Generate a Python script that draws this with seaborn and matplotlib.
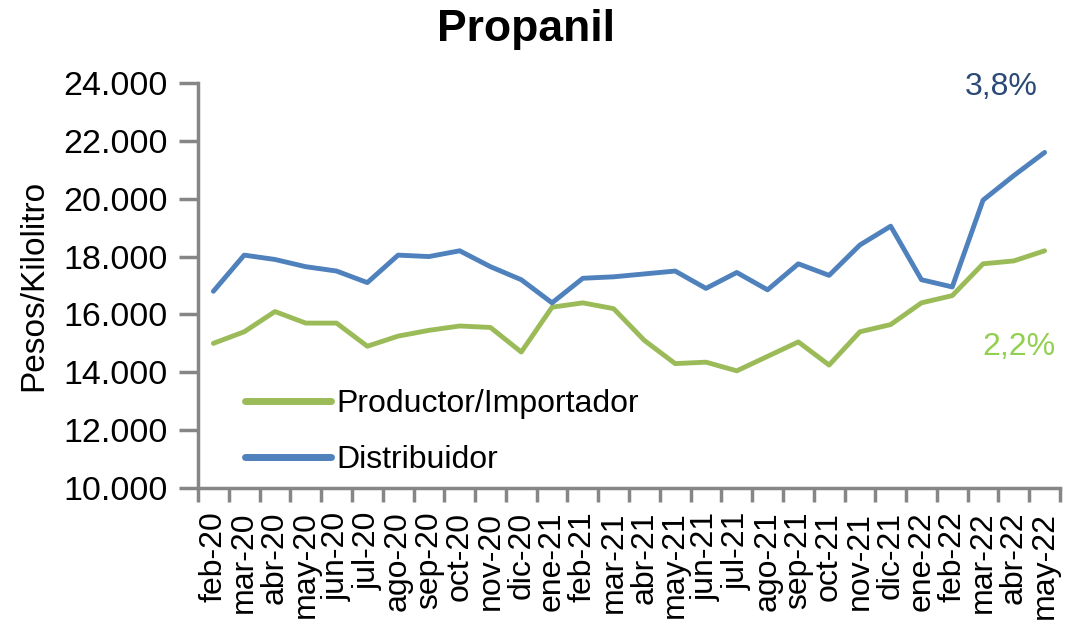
import numpy as np
import pandas as pd
import matplotlib

matplotlib.use("Agg")
import matplotlib.pyplot as plt
from matplotlib.ticker import FixedLocator, FuncFormatter
import seaborn as sns

sns.set_style("white")
plt.rcParams["font.family"] = ["Liberation Sans", "DejaVu Sans"]
plt.rcParams["text.color"] = "black"
plt.rcParams["axes.labelcolor"] = "black"
plt.rcParams["xtick.labelcolor"] = "black"
plt.rcParams["ytick.labelcolor"] = "black"

# Datos (pesos por kilolitro)
meses = [
    "feb-20", "mar-20", "abr-20", "may-20", "jun-20", "jul-20", "ago-20",
    "sep-20", "oct-20", "nov-20", "dic-20", "ene-21", "feb-21", "mar-21",
    "abr-21", "may-21", "jun-21", "jul-21", "ago-21", "sep-21", "oct-21",
    "nov-21", "dic-21", "ene-22", "feb-22", "mar-22", "abr-22", "may-22",
]
productor = [
    15000, 15400, 16100, 15700, 15700, 14900, 15250, 15450, 15600, 15550,
    14700, 16250, 16400, 16200, 15100, 14300, 14350, 14050, 14550, 15050,
    14250, 15400, 15650, 16400, 16650, 17750, 17850, 18200,
]
distribuidor = [
    16800, 18050, 17900, 17650, 17500, 17100, 18050, 18000, 18200, 17650,
    17200, 16400, 17250, 17300, 17400, 17500, 16900, 17450, 16850, 17750,
    17350, 18400, 19050, 17200, 16950, 19950, 20800, 21600,
]
series = ["Productor/Importador", "Distribuidor"]
colores = {"Productor/Importador": "#9BBB59", "Distribuidor": "#4F81BD"}
var_labels = ["2,2%", "3,8%"]

df = pd.concat([
    pd.DataFrame({"x": np.arange(len(meses)), "valor": productor, "serie": series[0]}),
    pd.DataFrame({"x": np.arange(len(meses)), "valor": distribuidor, "serie": series[1]}),
])

fig = plt.figure(figsize=(10.71, 6.27), dpi=100)
ax = fig.add_axes([198 / 1071, 1 - 488 / 627, 862 / 1071, 405 / 627])

sns.lineplot(data=df, x="x", y="valor", hue="serie", hue_order=series,
             palette=colores, linewidth=3.5, sort=False, ax=ax,
             solid_capstyle="round", solid_joinstyle="round")

ax.set_xlim(-0.5, len(meses) - 0.5)
ax.set_ylim(10000, 24000)
ax.set_yticks(np.arange(10000, 24001, 2000))
ax.yaxis.set_major_formatter(FuncFormatter(lambda v, p: f"{v:,.0f}".replace(",", ".")))

ax.set_xticks(np.arange(len(meses)))
ax.set_xticklabels(meses, rotation=90, fontsize=23)
ax.xaxis.set_minor_locator(FixedLocator(np.arange(-0.5, len(meses), 1)))
ax.tick_params(axis="x", which="major", bottom=True, length=0, pad=17)
ax.tick_params(axis="x", which="minor", bottom=True, length=10, width=2.5,
               color="#868686")
ax.tick_params(axis="y", left=True, length=14, width=2.5, color="#868686",
               pad=8, labelsize=24.5)

for side in ["top", "right"]:
    ax.spines[side].set_visible(False)
for side in ["left", "bottom"]:
    ax.spines[side].set_color("#868686")
    ax.spines[side].set_linewidth(2.5)

ax.set_xlabel("")
ax.set_ylabel("Pesos/Kilolitro", fontsize=24)
ax.yaxis.set_label_coords(-0.172, 0.5)

leg = ax.legend(loc="upper left", bbox_to_anchor=(0.0545, 0.245), frameon=False,
                fontsize=23, handlelength=2.7, handletextpad=0.15,
                labelspacing=0.83, borderpad=0, borderaxespad=0)
for line in leg.get_lines():
    line.set_linewidth(5)

ax.text(0.9316, 0.99, var_labels[1], transform=ax.transAxes, ha="center",
        va="center", fontsize=23, color="#2A4A75")
ax.text(0.9524, 0.348, var_labels[0], transform=ax.transAxes, ha="center",
        va="center", fontsize=23, color="#92D050")

fig.text(525.7 / 1071, 1 - 29 / 627, "Propanil", ha="center", va="center",
         fontsize=32, fontweight="bold")

fig.savefig("out.png", dpi=100)
